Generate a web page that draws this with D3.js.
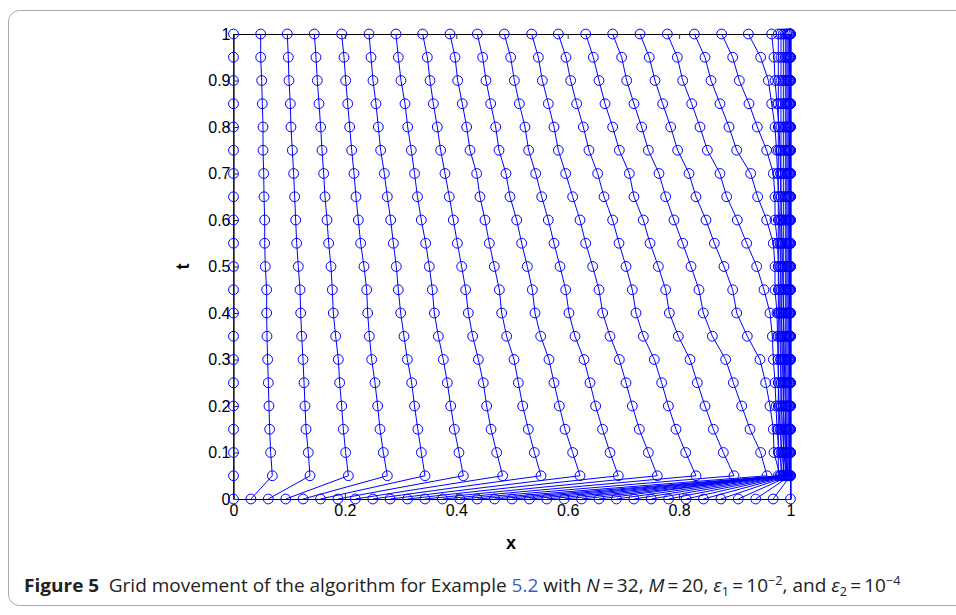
<!DOCTYPE html>
<html>
<head>
<meta charset="utf-8">
<script src="https://cdn.jsdelivr.net/npm/d3@7"></script>
<style>
  body { margin: 0; background: #fff; }
  svg { display: block; }
</style>
</head>
<body>
<div id="canvas"></div>
<script>
// time levels t_k (M = 20)
const tLevels = [0, 0.05, 0.1, 0.15, 0.2, 0.25, 0.3, 0.35, 0.4, 0.45, 0.5,
                 0.55, 0.6, 0.65, 0.7, 0.75, 0.8, 0.85, 0.9, 0.95, 1];

// uniform starting grid at t = 0 (N = 32)
const initialGrid = [0, 0.03125, 0.0625, 0.09375, 0.125, 0.15625, 0.1875, 0.21875,
  0.25, 0.28125, 0.3125, 0.34375, 0.375, 0.40625, 0.4375, 0.46875, 0.5,
  0.53125, 0.5625, 0.59375, 0.625, 0.65625, 0.6875, 0.71875, 0.75,
  0.78125, 0.8125, 0.84375, 0.875, 0.90625, 0.9375, 0.96875, 1];

// moving nodes 1..20, x at t = 0.05 ... 1
const movedNodes = [
  [0.0697,0.0667,0.0649,0.0637,0.0625,0.0613,0.0601,0.0595,0.0595,0.0571,0.0560,0.0560,0.0548,0.0542,0.0530,0.0530,0.0517,0.0506,0.0488,0.0488],
  [0.1373,0.1343,0.1302,0.1284,0.1266,0.1248,0.1224,0.1206,0.1194,0.1164,0.1134,0.1116,0.1098,0.1080,0.1056,0.1032,0.1020,0.0996,0.0984,0.0966],
  [0.2062,0.2014,0.1972,0.1942,0.1906,0.1882,0.1834,0.1792,0.1774,0.1750,0.1709,0.1679,0.1643,0.1619,0.1589,0.1565,0.1535,0.1505,0.1481,0.1451],
  [0.2762,0.2690,0.2630,0.2588,0.2540,0.2481,0.2439,0.2409,0.2391,0.2343,0.2283,0.2241,0.2199,0.2163,0.2122,0.2086,0.2050,0.2014,0.1984,0.1942],
  [0.3438,0.3372,0.3309,0.3250,0.3199,0.3121,0.3061,0.3001,0.2959,0.2923,0.2870,0.2822,0.2762,0.2708,0.2642,0.2600,0.2558,0.2504,0.2469,0.2433],
  [0.4126,0.4048,0.3965,0.3899,0.3839,0.3767,0.3677,0.3606,0.3570,0.3516,0.3450,0.3372,0.3303,0.3250,0.3192,0.3127,0.3079,0.3007,0.2959,0.2917],
  [0.4832,0.4725,0.4623,0.4545,0.4485,0.4396,0.4294,0.4216,0.4168,0.4096,0.4019,0.3947,0.3875,0.3797,0.3719,0.3659,0.3588,0.3528,0.3480,0.3396],
  [0.5521,0.5401,0.5293,0.5192,0.5114,0.5036,0.4904,0.4815,0.4773,0.4683,0.4593,0.4515,0.4425,0.4366,0.4246,0.4186,0.4108,0.4025,0.3977,0.3887],
  [0.6221,0.6089,0.5952,0.5850,0.5754,0.5664,0.5515,0.5413,0.5365,0.5275,0.5174,0.5084,0.4964,0.4892,0.4767,0.4707,0.4617,0.4533,0.4473,0.4378],
  [0.6909,0.6759,0.6625,0.6502,0.6400,0.6293,0.6131,0.6023,0.5964,0.5862,0.5754,0.5652,0.5533,0.5425,0.5299,0.5233,0.5132,0.5042,0.4976,0.4862],
  [0.7609,0.7448,0.7286,0.7160,0.7047,0.6927,0.6759,0.6628,0.6562,0.6448,0.6323,0.6221,0.6089,0.5964,0.5832,0.5754,0.5652,0.5545,0.5473,0.5353],
  [0.8303,0.8118,0.7944,0.7807,0.7687,0.7555,0.7358,0.7226,0.7160,0.7047,0.6921,0.6807,0.6652,0.6538,0.6382,0.6281,0.6161,0.6053,0.5969,0.5832],
  [0.8986,0.8794,0.8615,0.8465,0.8327,0.8196,0.7986,0.7825,0.7759,0.7627,0.7478,0.7358,0.7190,0.7107,0.6927,0.6807,0.6670,0.6562,0.6460,0.6323],
  [0.9578,0.9464,0.9273,0.9123,0.8974,0.8836,0.8597,0.8435,0.8357,0.8214,0.8064,0.7908,0.7759,0.7639,0.7448,0.7328,0.7190,0.7059,0.6969,0.6807],
  [0.9812,0.9704,0.9692,0.9632,0.9554,0.9452,0.9225,0.9034,0.8962,0.8806,0.8633,0.8483,0.8303,0.8178,0.7974,0.7849,0.7705,0.7567,0.7465,0.7298],
  [0.9865,0.9794,0.9758,0.9740,0.9722,0.9692,0.9674,0.9632,0.9524,0.9393,0.9213,0.9045,0.8854,0.8734,0.8507,0.8375,0.8226,0.8064,0.7968,0.7789],
  [0.9892,0.9847,0.9812,0.9794,0.9785,0.9776,0.9767,0.9758,0.9722,0.9722,0.9692,0.9572,0.9410,0.9285,0.9034,0.8896,0.8734,0.8573,0.8465,0.8274],
  [0.9919,0.9883,0.9856,0.9838,0.9829,0.9820,0.9812,0.9803,0.9794,0.9785,0.9767,0.9722,0.9722,0.9692,0.9572,0.9404,0.9255,0.9081,0.8962,0.8764],
  [0.9937,0.9910,0.9892,0.9874,0.9865,0.9856,0.9847,0.9838,0.9829,0.9820,0.9812,0.9803,0.9785,0.9767,0.9749,0.9722,0.9662,0.9603,0.9464,0.9243],
  [0.9952,0.9934,0.9919,0.9907,0.9898,0.9889,0.9883,0.9874,0.9865,0.9856,0.9847,0.9838,0.9829,0.9820,0.9812,0.9794,0.9758,0.9722,0.9704,0.9662]
];

// nodes 21..31 stay in the layer at x = 1 (vertical lines), node 32 is the boundary
const layerNodes = [0.9781, 0.9829, 0.9871, 0.9907, 0.9934, 0.9955, 0.9971, 0.9984, 0.9991, 0.9996, 0.9999];
const leftBoundary = 0;
const rightBoundary = 1;

const xTicks = [0, 0.2, 0.4, 0.6, 0.8, 1];
const tTicks = [0, 0.1, 0.2, 0.3, 0.4, 0.5, 0.6, 0.7, 0.8, 0.9, 1];

const width = 956;
const height = 615;
const blue = "#0000ff";

const svg = d3.select("#canvas").append("svg")
  .attr("width", width)
  .attr("height", height);

// figure panel border
svg.append("rect")
  .attr("x", 8.5).attr("y", 10.5)
  .attr("width", 1000).attr("height", 595)
  .attr("rx", 11)
  .attr("fill", "none")
  .attr("stroke", "#a8a8a8")
  .attr("stroke-width", 1);

const x = d3.scaleLinear().domain([0, 1]).range([233.5, 790.5]);
const y = d3.scaleLinear().domain([0, 1]).range([499, 34]);

// build every node's path in (x, t)
const paths = [];
paths.push(tLevels.map(t => [leftBoundary, t]));
movedNodes.forEach((col, i) => {
  paths.push([[initialGrid[i + 1], 0]].concat(col.map((v, k) => [v, tLevels[k + 1]])));
});
layerNodes.forEach((v, j) => {
  paths.push([[initialGrid[21 + j], 0]].concat(tLevels.slice(1).map(t => [v, t])));
});
paths.push(tLevels.map(t => [rightBoundary, t]));

const line = d3.line().x(d => x(d[0])).y(d => y(d[1]));

const g = svg.append("g");

// axes with inward ticks
const axisFont = "'Liberation Sans', Arial, Helvetica, sans-serif";

g.append("g")
  .attr("transform", `translate(0,${y(0)})`)
  .call(d3.axisBottom(x).tickValues(xTicks).tickFormat(String).tickSize(-5).tickSizeOuter(0).tickPadding(6));
g.append("g")
  .attr("transform", `translate(${x(0)},0)`)
  .call(d3.axisLeft(y).tickValues(tTicks).tickFormat(String).tickSize(-5).tickSizeOuter(0).tickPadding(3));
g.append("g")
  .attr("transform", `translate(0,${y(1)})`)
  .call(d3.axisTop(x).tickValues(xTicks).tickFormat("").tickSize(-5).tickSizeOuter(0));
g.append("g")
  .attr("transform", `translate(${x(1)},0)`)
  .call(d3.axisRight(y).tickValues(tTicks).tickFormat("").tickSize(-5).tickSizeOuter(0));

g.selectAll(".domain").attr("stroke", "#000").attr("stroke-width", 1.2);
g.selectAll(".tick line").attr("stroke", "#333").attr("stroke-width", 1);
g.selectAll(".tick text")
  .attr("font-family", axisFont)
  .attr("font-size", 16)
  .attr("fill", "#000");

// grid node trajectories
const plot = svg.append("g");
plot.selectAll("path.traj")
  .data(paths)
  .join("path")
  .attr("class", "traj")
  .attr("d", line)
  .attr("fill", "none")
  .attr("stroke", blue)
  .attr("stroke-width", 1);

plot.selectAll("g.nodes")
  .data(paths)
  .join("g")
  .attr("class", "nodes")
  .selectAll("circle")
  .data(d => d)
  .join("circle")
  .attr("cx", d => x(d[0]))
  .attr("cy", d => y(d[1]))
  .attr("r", 4.9)
  .attr("fill", "none")
  .attr("stroke", blue)
  .attr("stroke-width", 1);

// axis titles
svg.append("text")
  .attr("x", 511).attr("y", 549)
  .attr("text-anchor", "middle")
  .attr("font-family", axisFont)
  .attr("font-weight", "bold")
  .attr("font-size", 18)
  .text("x");

svg.append("text")
  .attr("transform", `translate(189,${y(0.5)}) rotate(-90)`)
  .attr("text-anchor", "middle")
  .attr("font-family", axisFont)
  .attr("font-weight", "bold")
  .attr("font-size", 18)
  .text("t");

// caption
const cap = svg.append("g").attr("transform", "translate(24,592)");
const capText = cap.append("text")
  .attr("font-family", "'Liberation Sans Narrow', 'Open Sans', sans-serif")
  .attr("font-size", 18)
  .attr("fill", "#222");
capText.append("tspan").attr("font-weight", "bold").text("Figure 5");
capText.append("tspan").text("\u2002Grid movement of the algorithm for Example ");
capText.append("tspan").attr("fill", "#3a5fcd").text("5.2");
capText.append("tspan").text(" with ");
capText.append("tspan").attr("font-style", "italic").text("N");
capText.append("tspan").text("\u2009=\u200932, ");
capText.append("tspan").attr("font-style", "italic").text("M");
capText.append("tspan").text("\u2009=\u200920, ");
capText.append("tspan").attr("font-style", "italic").text("\u03b5");
capText.append("tspan").attr("font-size", 12).attr("dy", 4).text("1");
capText.append("tspan").attr("dy", -4).text("\u2009=\u200910");
capText.append("tspan").attr("font-size", 12).attr("dy", -7).text("\u22122");
capText.append("tspan").attr("dy", 7).text(", and ");
capText.append("tspan").attr("font-style", "italic").text("\u03b5");
capText.append("tspan").attr("font-size", 12).attr("dy", 4).text("2");
capText.append("tspan").attr("dy", -4).text("\u2009=\u200910");
capText.append("tspan").attr("font-size", 12).attr("dy", -7).text("\u22124");

const capW = capText.node().getComputedTextLength();
capText.attr("transform", `scale(${877 / capW},1)`);
</script>
</body>
</html>
